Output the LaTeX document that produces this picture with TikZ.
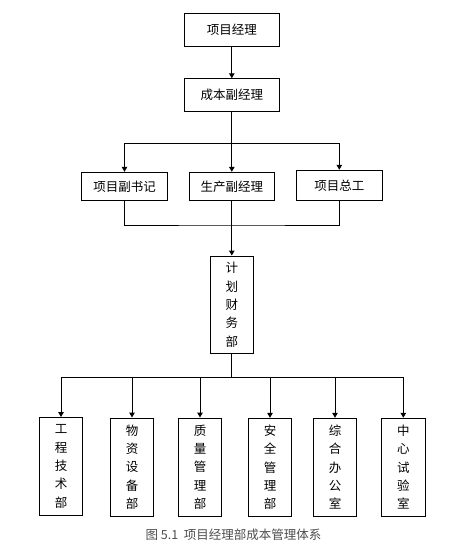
\documentclass[tikz,border=0pt]{standalone}
\usepackage{fontspec}
\setmainfont{Noto Sans CJK SC}
\usetikzlibrary{arrows.meta}
\begin{document}
\begin{tikzpicture}[x=1pt,y=-1pt,
  box/.style={draw,line width=1pt,inner sep=0pt,align=center,font=\fontsize{12.5}{18.3}\selectfont},
  vbox/.style={box,minimum width=43.4pt,minimum height=98pt},
  conn/.style={line width=1pt},
  arr/.style={conn,-{Triangle[width=5.5pt,length=5pt]}}]
\useasboundingbox (0,0) rectangle (467,550);
\node[box,minimum width=95pt,minimum height=32.7pt] (pm) at (231.8,29.7) {项目经理};
\node[box,minimum width=95pt,minimum height=32.3pt] (cost) at (231.8,94.9) {成本副经理};
\node[box,minimum width=85.6pt,minimum height=28pt] (sec) at (124.5,186.3) {项目副书记};
\node[box,minimum width=85.3pt,minimum height=28pt] (prod) at (231.8,186.3) {生产副经理};
\node[box,minimum width=86pt,minimum height=30pt] (eng) at (339.3,185.3) {项目总工};
\node[box,minimum width=43pt,minimum height=97.3pt] (plan) at (231.8,304.7) {计\\划\\财\\务\\部};
\node[vbox] (b1) at (61,466.5) {工\\程\\技\\术\\部};
\node[vbox] (b2) at (132,467) {物\\资\\设\\备\\部};
\node[vbox] (b3) at (200,467) {质\\量\\管\\理\\部};
\node[vbox] (b4) at (270,467.3) {安\\全\\管\\理\\部};
\node[vbox] (b5) at (335,467.3) {综\\合\\办\\公\\室};
\node[vbox] (b6) at (403.3,467.3) {中\\心\\试\\验\\室};
\node[font=\fontsize{12.5}{15}\selectfont,text=black!70] (cap) at (233.5,535) {图 5.1\ \ 项目经理部成本管理体系};
\coordinate (split) at (231.8,143.3);
\coordinate (join) at (231.8,225);
\coordinate (bus) at (231.8,377.7);
\draw[arr] (pm) -- (cost);
\draw[arr] (cost) -- (prod);
\draw[arr] (split) -| (sec.north);
\draw[arr] (split) -| (eng.north);
\draw[conn] (sec.south) |- (join) -| (eng.south);
\draw[arr] (prod) -- (plan);
\draw[conn] (plan.south) -- (bus);
\foreach \b in {b1,b2,b3,b4,b5,b6}{\draw[arr] (bus) -| (\b.north);}
\end{tikzpicture}
\end{document}
